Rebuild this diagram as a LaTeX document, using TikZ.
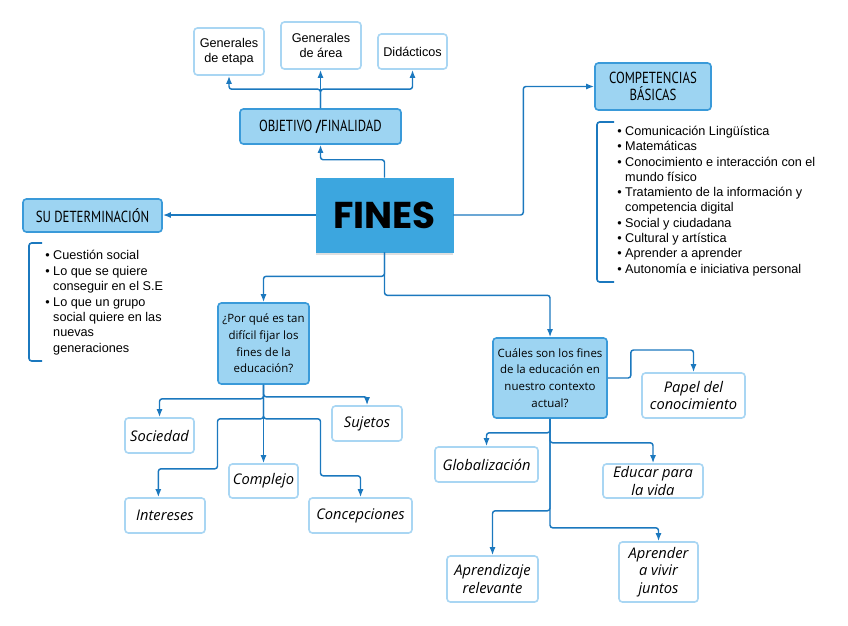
\documentclass[tikz,border=0pt]{standalone}
\usepackage{fontspec}
\setmainfont{Liberation Sans}
\newfontfamily\headfont[FakeStretch=0.8]{PT Sans}
\newfontfamily\finesfont{Poppins}
\newfontfamily\askfont{Open Sans}
\usetikzlibrary{arrows.meta,shadows}
\tikzset{>={Latex[width=4.5pt,length=6pt]}}
\definecolor{linkblue}{HTML}{1B78BE}
\definecolor{edgeblue}{HTML}{3A9AD9}
\definecolor{lightblue}{HTML}{9DD4F2}
\definecolor{finesblue}{HTML}{3CA6DF}
\definecolor{paleblue}{HTML}{A9D6F3}
\tikzset{
  wh/.style 2 args={minimum width=#1*0.75pt, minimum height=#2*0.75pt},
  link/.style={->, draw=linkblue, line width=1.1pt, rounded corners=2pt},
  bracket/.style={draw=linkblue, line width=1.2pt, rounded corners=2pt},
  topic/.style={draw=edgeblue, fill=lightblue, line width=1.2pt,
    rounded corners=2.5pt, inner sep=1pt, align=center,
    font=\headfont\fontsize{12}{13}\selectfont},
  ask/.style={topic, font=\askfont\fontsize{8.6}{12.5}\selectfont},
  leaf/.style={draw=paleblue, fill=white, line width=1.2pt,
    rounded corners=2.5pt, inner sep=1pt, align=center,
    font=\askfont\itshape\fontsize{11}{13}\selectfont},
  plain/.style={leaf, font=\fontsize{9.5}{11.5}\selectfont},
}

\begin{document}
\begin{tikzpicture}[x=0.75pt, y=-0.75pt]
  \useasboundingbox (0,0) rectangle (848,625);

  % centre
  \node[draw=finesblue, fill=finesblue, wh={137}{74}, inner sep=0pt,
    drop shadow={shadow xshift=0pt, shadow yshift=-2.5pt, opacity=0.25},
    font=\finesfont\bfseries\fontsize{28}{28}\selectfont]
    (fines) at (384.5,215) {FINES};

  % objetivo
  \node[topic, wh={161}{35}] (obj) at (320.5,126.5) {OBJETIVO {\bfseries/}FINALIDAD};
  \node[plain, wh={70}{47}] (etapa) at (229,51.5) {Generales\\de etapa};
  \node[plain, wh={80}{47}] (area) at (321,45.5) {Generales\\de área};
  \node[plain, wh={69}{35}] (didac) at (412.5,51.5) {Didácticos};

  \draw[link] (fines.north) -- ++(0,-18) -| (obj.south);
  \draw[link] (obj.north) -- (obj.north |- area.south);
  \draw[link] (obj.north) -- ++(0,-19) -| (etapa.south);
  \draw[link] (obj.north) -- ++(0,-19) -| (didac.south);

  % determinacion
  \node[topic, wh={139}{33}] (sudet) at (92.5,215.5) {SU DETERMINACIÓN};
  \draw[link] (fines.west) -- (fines.west -| sudet.east);
  \node[anchor=north west, inner sep=0pt, align=left,
    font=\fontsize{9.5}{11.6}\selectfont] (sulist) at (45,250)
    {• Cuestión social\\• Lo que se quiere\\\hphantom{• }conseguir en el S.E\\
     • Lo que un grupo\\\hphantom{• }social quiere en las\\\hphantom{• }nuevas\\
     \hphantom{• }generaciones};
  \draw[bracket] (42,243) -- (29,243) -- (29,361) -- (42,361);

  % competencias
  \node[topic, wh={116}{47}] (comp) at (653,86.5) {COMPETENCIAS\\BÁSICAS};
  \draw[link] (fines.east) -- ++(70,0) |- (comp.west);
  \node[anchor=north west, inner sep=0pt, align=left,
    font=\fontsize{9.5}{11.45}\selectfont] (complist) at (617,126)
    {• Comunicación Lingüística\\• Matemáticas\\
     • Conocimiento e interacción con el\\\hphantom{• }mundo físico\\
     • Tratamiento de la información y\\\hphantom{• }competencia digital\\
     • Social y ciudadana\\• Cultural y artística\\
     • Aprender a aprender\\• Autonomía e iniciativa personal};
  \draw[bracket] (614,122) -- (597,122) -- (597,282) -- (614,282);

  % por que
  \node[ask, wh={91}{81}] (porque) at (263.5,343.5)
    {¿Por qué es tan\\difícil fijar los\\fines de la\\educación?};
  \draw[link] (fines.south) -- ++(0,24) -| (porque.north);
  \node[leaf, wh={69}{35}] (sociedad) at (159.5,435.5) {Sociedad};
  \node[leaf, wh={70}{35}] (sujetos) at (367,423.5) {Sujetos};
  \node[leaf, wh={69}{34}] (complejo) at (263.5,481) {Complejo};
  \node[leaf, wh={80}{35}] (intereses) at (165,515.5) {Intereses};
  \node[leaf, wh={103}{35}] (concep) at (360.5,515.5) {Concepciones};

  \draw[link] (porque.south) -- (complejo.north);
  \draw[link] (porque.south) -- ++(0,14) -| (sociedad.north);
  \draw[link] (porque.south) -- ++(0,12) -| (sujetos.north);
  \draw[link] (porque.south) -- ++(0,34) -- ++(-46,0) -- ++(0,50)
    -| ([xshift=-5pt]intereses.north);
  \draw[link] (porque.south) -- ++(0,34) -- ++(57,0) -- ++(0,57)
    -| (concep.north);

  % cuales
  \node[ask, wh={114}{80}] (cuales) at (550,378)
    {Cuáles son los fines\\de la educación en\\nuestro contexto\\actual?};
  \draw[link] (fines.south) -- ++(0,43) -| (cuales.north);
  \node[leaf, wh={103}{45}] (papel) at (693.5,395.5) {Papel del\\conocimiento};
  \node[leaf, wh={103}{35}] (glob) at (486.5,464.5) {Globalización};
  \node[leaf, wh={100}{34}] (educar) at (653,481) {Educar para\\la vida};
  \node[leaf, wh={91}{46}] (aprendizaje) at (492.5,579) {Aprendizaje\\relevante};
  \node[leaf, wh={79}{60}] (aprender) at (658.5,572) {Aprender\\a vivir\\juntos};

  \draw[link] (cuales.east) -- ++(23,0) -- ++(0,-28) -| (papel.north);
  \draw[link] (cuales.south) -- ++(0,14) -| (glob.north);
  \draw[link] (cuales.south) -- ++(0,24) -| (educar.north);
  \draw[link] (cuales.south) -- ++(0,92) -| (aprendizaje.north);
  \draw[link] (cuales.south) -- ++(0,109) -| (aprender.north);
\end{tikzpicture}
\end{document}
